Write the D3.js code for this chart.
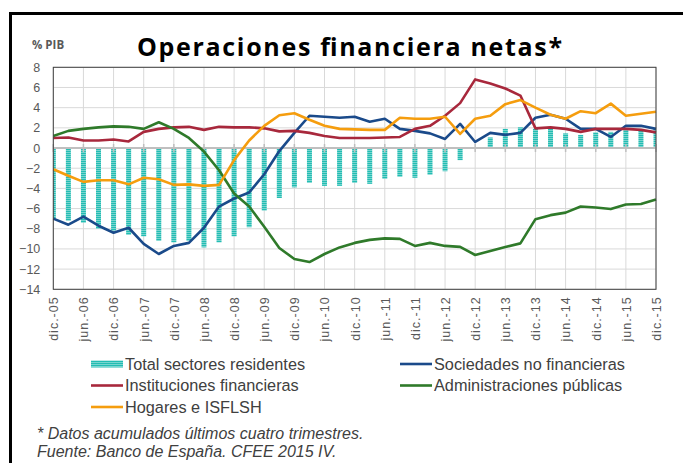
<!DOCTYPE html>
<html>
<head>
<meta charset="utf-8">
<script src="https://cdn.jsdelivr.net/npm/d3@7"></script>
<style>
  html, body { margin: 0; padding: 0; background: #fff; }
  svg { display: block; }
</style>
</head>
<body>
<div id="chart"></div>
<script>
/* ── Datos (% PIB, acumulados últimos cuatro trimestres) ─────────── */
const quarters = [
  "dic.-05","mar.-06","jun.-06","sep.-06","dic.-06","mar.-07","jun.-07","sep.-07","dic.-07",
  "mar.-08","jun.-08","sep.-08","dic.-08","mar.-09","jun.-09","sep.-09","dic.-09",
  "mar.-10","jun.-10","sep.-10","dic.-10","mar.-11","jun.-11","sep.-11","dic.-11",
  "mar.-12","jun.-12","sep.-12","dic.-12","mar.-13","jun.-13","sep.-13","dic.-13",
  "mar.-14","jun.-14","sep.-14","dic.-14","mar.-15","jun.-15","sep.-15","dic.-15"
];
const tickLabels = quarters.filter(q => q.startsWith("dic") || q.startsWith("jun"));
const yTicks = [8, 6, 4, 2, 0, -2, -4, -6, -8, -10, -12, -14];

const totalResidentes = [
  -7.1, -7.2, -7.4, -8.0, -8.2, -8.6, -8.75, -9.2, -9.35, -9.2, -9.85,
  -9.35, -8.75, -7.85, -6.2, -4.95, -3.9, -3.45, -3.75, -3.75, -3.45,
  -3.55, -3.05, -2.85, -2.95, -2.65, -2.3, -1.2, 0, 1.05, 1.9,
  2.05, 1.9, 1.95, 1.45, 1.3, 1.55, 1.6, 1.8, 1.9, 1.9
];
const sociedadesNoFin = [
  -7.0, -7.6, -6.8, -7.7, -8.4, -7.9, -9.5, -10.5, -9.7, -9.4, -7.9,
  -5.8, -5.0, -4.4, -2.6, -0.3, 1.5, 3.2, 3.1, 3.0, 3.1,
  2.6, 2.9, 1.9, 1.7, 1.45, 0.9, 2.4, 0.6, 1.5, 1.3,
  1.5, 3.0, 3.3, 2.9, 1.9, 1.9, 1.1, 2.2, 2.2, 1.9
];
const institucionesFin = [
  1.0, 1.05, 0.75, 0.75, 0.85, 0.65, 1.6, 1.9, 2.05, 2.1, 1.8,
  2.1, 2.05, 2.05, 1.95, 1.65, 1.7, 1.5, 1.2, 1.0, 1.0,
  1.0, 1.05, 1.1, 1.9, 2.2, 3.2, 4.45, 6.8, 6.4, 5.9,
  5.2, 1.95, 2.05, 1.9, 1.6, 1.9, 1.9, 1.9, 1.8, 1.55
];
const adminPublicas = [
  1.2, 1.7, 1.9, 2.05, 2.15, 2.1, 1.9, 2.55, 1.9, 1.0, -0.35,
  -2.2, -4.5, -5.8, -7.8, -9.9, -11.0, -11.3, -10.5, -9.85, -9.4,
  -9.1, -8.95, -9.0, -9.7, -9.4, -9.7, -9.8, -10.6, -10.2, -9.8,
  -9.45, -7.05, -6.65, -6.4, -5.8, -5.9, -6.05, -5.6, -5.55, -5.1
];
const hogares = [
  -2.1, -2.75, -3.35, -3.2, -3.2, -3.6, -2.95, -3.1, -3.65, -3.6, -3.75,
  -3.65, -1.2, 0.75, 2.2, 3.25, 3.45, 2.8, 2.2, 1.9, 1.85,
  1.8, 1.8, 3.0, 2.9, 2.9, 3.1, 1.4, 2.9, 3.2, 4.35,
  4.75, 4.0, 3.3, 2.9, 3.65, 3.45, 4.4, 3.2, 3.4, 3.6
];

const lineSeries = [
  { name: "Sociedades no financieras", values: sociedadesNoFin, color: "#1a4a8a" },
  { name: "Instituciones financieras", values: institucionesFin, color: "#a8283c" },
  { name: "Administraciones públicas", values: adminPublicas, color: "#2f7a2a" },
  { name: "Hogares e ISFLSH", values: hogares, color: "#f59d0e" }
];

/* ── SVG ─────────────────────────────────────────────────────────── */
const W = 683, H = 463;
const plot = { left: 53.3, right: 656, top: 67.3, bottom: 289.3 };

const svg = d3.select("#chart").append("svg")
  .attr("width", W)
  .attr("height", H);

const defs = svg.append("defs");

// Relleno rayado de las barras (como el patrón de Excel)
const pat = defs.append("pattern")
  .attr("id", "rayas")
  .attr("patternUnits", "userSpaceOnUse")
  .attr("width", 6).attr("height", 2);
pat.append("rect").attr("width", 6).attr("height", 2).attr("fill", "#22bdb3");
pat.append("rect").attr("width", 6).attr("height", 0.8).attr("fill", "#8fdcd6");

defs.append("clipPath").attr("id", "clip-plot")
  .append("rect")
  .attr("x", plot.left).attr("y", plot.top)
  .attr("width", plot.right - plot.left).attr("height", plot.bottom - plot.top);

// Marco negro exterior
svg.append("rect")
  .attr("x", 10.5).attr("y", 13.5)
  .attr("width", 700).attr("height", 500)
  .attr("fill", "none")
  .attr("stroke", "#000")
  .attr("stroke-width", 3);

/* ── Escalas ─────────────────────────────────────────────────────── */
const x = d3.scalePoint().domain(quarters).range([plot.left, plot.right]);
const y = d3.scaleLinear().domain([-14, 8]).range([plot.bottom, plot.top]);

/* ── Rejilla ─────────────────────────────────────────────────────── */
const grid = svg.append("g");
grid.selectAll(".hgrid").data(yTicks).join("line")
  .attr("x1", plot.left).attr("x2", plot.right)
  .attr("y1", d => y(d)).attr("y2", d => y(d))
  .attr("stroke", "#d9d9d9").attr("stroke-width", 1);
grid.selectAll(".vgrid").data(tickLabels).join("line")
  .attr("x1", d => x(d)).attr("x2", d => x(d))
  .attr("y1", plot.top).attr("y2", plot.bottom)
  .attr("stroke", "#d9d9d9").attr("stroke-width", 1);

/* ── Barras: Total sectores residentes ───────────────────────────── */
const barW = 5;
svg.append("g").attr("clip-path", "url(#clip-plot)")
  .selectAll("rect").data(quarters).join("rect")
  .attr("x", d => x(d) - barW / 2)
  .attr("width", barW)
  .attr("y", (d, i) => y(Math.max(0, totalResidentes[i])))
  .attr("height", (d, i) => Math.abs(y(totalResidentes[i]) - y(0)))
  .attr("fill", "url(#rayas)");

/* ── Eje en cero con marcas ──────────────────────────────────────── */
svg.append("line")
  .attr("x1", plot.left).attr("x2", plot.right)
  .attr("y1", y(0)).attr("y2", y(0))
  .attr("stroke", "#bfbfbf").attr("stroke-width", 2);
svg.append("g").selectAll("line").data(tickLabels).join("line")
  .attr("x1", d => x(d)).attr("x2", d => x(d))
  .attr("y1", y(0) - 4).attr("y2", y(0) + 4)
  .attr("stroke", "#bfbfbf").attr("stroke-width", 1.5);

/* ── Líneas ──────────────────────────────────────────────────────── */
const line = d3.line()
  .x((d, i) => x(quarters[i]))
  .y(d => y(d));

svg.append("g").selectAll("path").data(lineSeries).join("path")
  .attr("d", d => line(d.values))
  .attr("fill", "none")
  .attr("stroke", d => d.color)
  .attr("stroke-width", 2.6)
  .attr("stroke-linejoin", "round");

// Borde del área de trazado
svg.append("rect")
  .attr("x", plot.left).attr("y", plot.top)
  .attr("width", plot.right - plot.left).attr("height", plot.bottom - plot.top)
  .attr("fill", "none").attr("stroke", "#404040").attr("stroke-width", 1);

/* ── Ejes (texto) ────────────────────────────────────────────────── */
const yAxis = svg.append("g")
  .attr("transform", `translate(${plot.left},0)`)
  .call(d3.axisLeft(y).tickValues(yTicks).tickSize(0).tickPadding(13));
yAxis.select(".domain").remove();
yAxis.selectAll("text")
  .attr("fill", "#595959")
  .style("font-family", "'Liberation Sans', Arial, sans-serif")
  .style("font-size", "12.5px");

const xAxis = svg.append("g")
  .attr("transform", `translate(0,${plot.bottom})`)
  .call(d3.axisBottom(x).tickValues(tickLabels).tickSize(0));
xAxis.select(".domain").remove();
xAxis.selectAll("text")
  .attr("fill", "#595959")
  .attr("transform", "rotate(-90)")
  .attr("x", -7).attr("y", 0).attr("dy", "0.35em")
  .attr("text-anchor", "end")
  .style("font-family", "'Liberation Sans', Arial, sans-serif")
  .style("font-size", "12.5px")
  .style("letter-spacing", "1px");

/* ── Títulos ─────────────────────────────────────────────────────── */
svg.append("text")
  .attr("x", 137).attr("y", 56)
  .attr("textLength", 425).attr("lengthAdjust", "spacing")
  .style("font-family", "'Open Sans', sans-serif")
  .style("font-weight", "bold")
  .style("font-size", "25px")
  .attr("fill", "#000")
  .text("Operaciones financiera netas*");

svg.append("text")
  .attr("x", 32).attr("y", 49)
  .style("font-family", "'Open Sans', sans-serif")
  .style("font-weight", "bold")
  .style("font-size", "11.5px")
  .attr("fill", "#595959")
  .text("% PIB");

/* ── Leyenda ─────────────────────────────────────────────────────── */
const legendItems = [
  { name: "Total sectores residentes", bar: true, col: 0, row: 0 },
  { name: "Sociedades no financieras", color: lineSeries[0].color, col: 1, row: 0 },
  { name: "Instituciones financieras", color: lineSeries[1].color, col: 0, row: 1 },
  { name: "Administraciones públicas", color: lineSeries[2].color, col: 1, row: 1 },
  { name: "Hogares e ISFLSH", color: lineSeries[3].color, col: 0, row: 2 }
];
const swW = 32;
const legend = svg.append("g");
const lg = legend.selectAll("g").data(legendItems).join("g")
  .attr("transform", d => `translate(${d.col ? 400 : 91},${364 + d.row * 21.5})`);
lg.filter(d => d.bar).append("rect")
  .attr("x", 0).attr("y", -3.5).attr("width", swW).attr("height", 7)
  .attr("fill", "url(#rayas)");
lg.filter(d => !d.bar).append("line")
  .attr("x1", 0).attr("x2", swW).attr("y1", 0).attr("y2", 0)
  .attr("stroke", d => d.color).attr("stroke-width", 2.6);
lg.append("text")
  .attr("x", swW + 2).attr("dy", "0.35em")
  .attr("fill", "#404040")
  .style("font-family", "'Liberation Sans', Arial, sans-serif")
  .style("font-size", "16.3px")
  .text(d => d.name);

/* ── Notas ───────────────────────────────────────────────────────── */
const notas = ["* Datos acumulados últimos cuatro trimestres.", "Fuente: Banco de España. CFEE 2015 IV."];
svg.append("g").selectAll("text").data(notas).join("text")
  .attr("x", 37).attr("y", (d, i) => 439 + i * 18)
  .attr("fill", "#404040")
  .style("font-family", "'Liberation Sans', Arial, sans-serif")
  .style("font-style", "italic")
  .style("font-size", "16px")
  .text(d => d);
</script>
</body>
</html>
